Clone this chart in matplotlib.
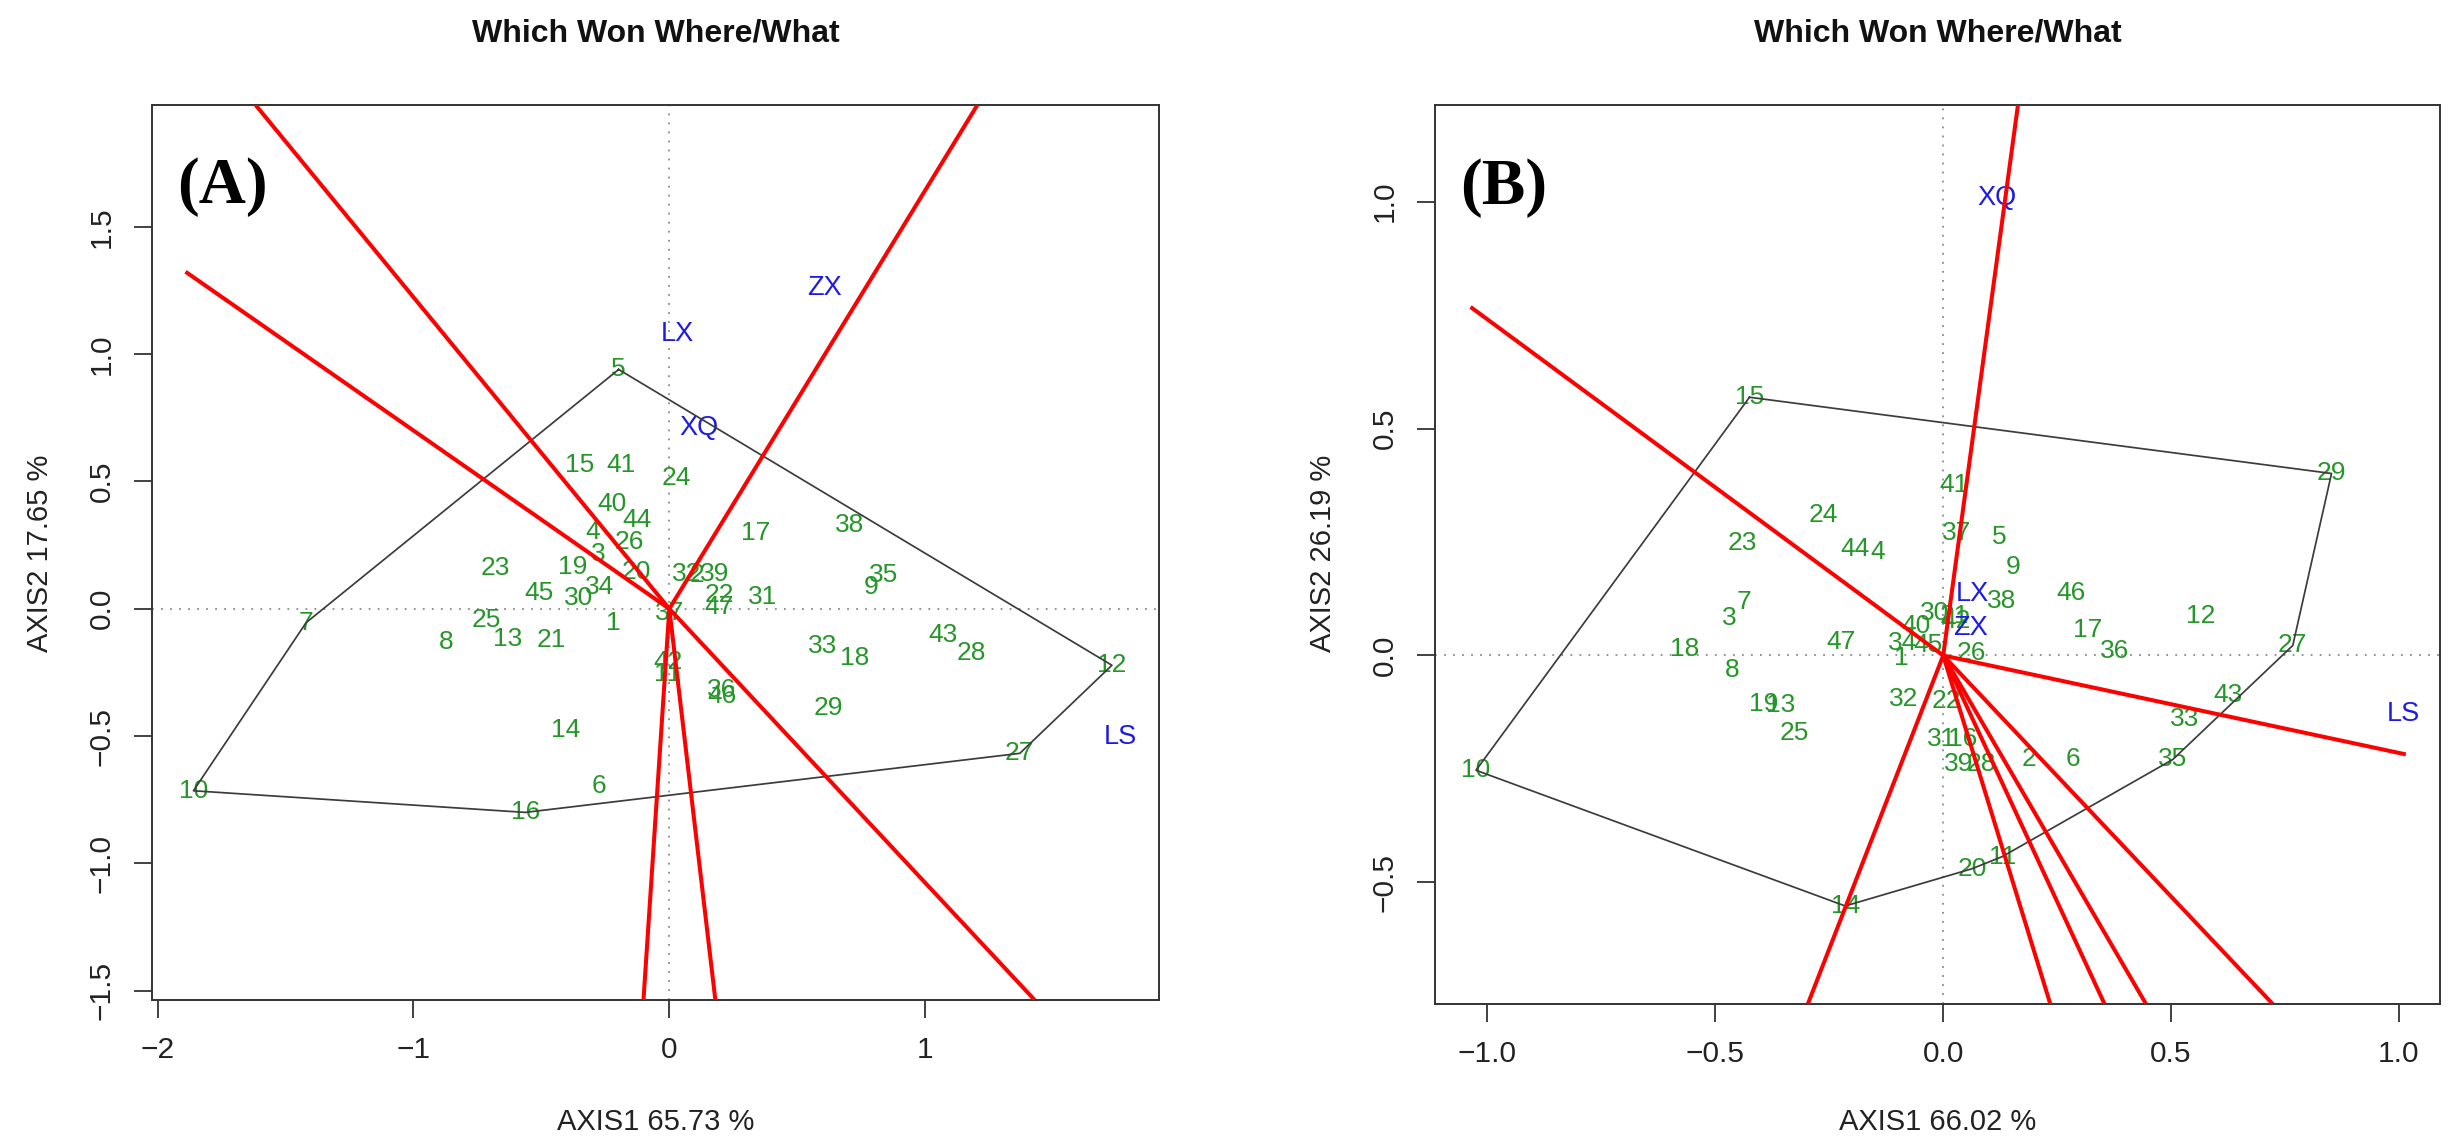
import matplotlib
matplotlib.use("Agg")
import matplotlib.pyplot as plt

plt.rcParams['font.family'] = ['Liberation Sans', 'DejaVu Sans']

# ---------------- data ----------------
genotypes = [str(i) for i in range(1, 48)]
env_names = ["LX", "XQ", "ZX", "LS"]

# Panel A genotype scores (AXIS1, AXIS2)
a_x = [-0.217, 0.110, -0.276, -0.300, -0.198, -0.275, -1.420, -0.871, 0.790, -1.860,
       -0.005, 1.730, -0.632, -0.404, -0.350, -0.563, 0.338, 0.726, -0.376, -0.130,
       -0.463, 0.196, -0.681, 0.027, -0.717, -0.158, 1.370, 1.180, 0.621, -0.354,
       0.365, 0.067, 0.600, -0.271, 0.836, 0.205, 0.000, 0.704, 0.177, -0.223,
       -0.187, -0.004, 1.068, -0.127, -0.509, 0.205, 0.196]
a_y = [-0.057, 0.133, 0.215, 0.303, 0.940, -0.695, -0.055, -0.130, 0.085, -0.715,
       -0.255, -0.222, -0.117, -0.475, 0.566, -0.800, 0.296, -0.194, 0.163, 0.144,
       -0.123, 0.053, 0.159, 0.512, -0.045, 0.264, -0.568, -0.174, -0.388, 0.041,
       0.047, 0.136, -0.148, 0.087, 0.134, -0.318, -0.015, 0.330, 0.138, 0.410,
       0.563, -0.210, -0.102, 0.349, 0.060, -0.342, 0.007]
a_env_x = [0.030, 0.117, 0.606, 1.764]
a_env_y = [1.080, 0.712, 1.261, -0.504]
a_hull = [5, 12, 27, 16, 10, 7]
a_ray_x = [-1.617, -1.891, 1.204, 1.428, -0.101, 0.180]
a_ray_y = [1.979, 1.324, 1.979, -1.537, -1.537, -1.537]

# Panel B genotype scores
b_x = [-0.091, 0.189, -0.470, -0.144, 0.122, 0.285, -0.438, -0.464, 0.154, -1.025,
       0.130, 0.565, -0.357, -0.215, -0.425, 0.042, 0.316, -0.567, -0.393, 0.063,
       0.024, 0.006, -0.441, -0.264, -0.326, 0.061, 0.767, 0.083, 0.852, -0.018,
       -0.004, -0.087, 0.530, -0.089, 0.504, 0.375, 0.030, 0.129, 0.033, -0.060,
       0.024, 0.028, 0.624, -0.194, -0.034, 0.280, -0.223]
b_y = [-0.006, -0.228, 0.083, 0.227, 0.260, -0.228, 0.117, -0.031, 0.196, -0.253,
       -0.443, 0.088, -0.110, -0.552, 0.569, -0.183, 0.057, 0.015, -0.106, -0.470,
       0.088, -0.100, 0.247, 0.310, -0.170, 0.006, 0.022, -0.240, 0.401, 0.093,
       -0.183, -0.096, -0.141, 0.027, -0.229, 0.010, 0.270, 0.120, -0.240, 0.066,
       0.376, 0.075, -0.087, 0.234, 0.023, 0.137, 0.029]
b_env_x = [0.065, 0.117, 0.061, 1.010]
b_env_y = [0.135, 1.009, 0.061, -0.130]
b_hull = [15, 29, 27, 35, 11, 20, 14, 10]
b_ray_x = [-1.037, 0.164, 1.015, -0.297, 0.235, 0.354, 0.445, 0.723]
b_ray_y = [0.768, 1.213, -0.218, -0.768, -0.768, -0.768, -0.768, -0.768]

a_xticks = [-2, -1, 0, 1]
a_xticklabels = ["\u22122", "\u22121", "0", "1"]
a_yticks = [-1.5, -1.0, -0.5, 0.0, 0.5, 1.0, 1.5]
a_yticklabels = ["\u22121.5", "\u22121.0", "\u22120.5", "0.0", "0.5", "1.0", "1.5"]
b_xticks = [-1.0, -0.5, 0.0, 0.5, 1.0]
b_xticklabels = ["\u22121.0", "\u22120.5", "0.0", "0.5", "1.0"]
b_yticks = [-0.5, 0.0, 0.5, 1.0]
b_yticklabels = ["\u22120.5", "0.0", "0.5", "1.0"]

title_text = "Which Won Where/What"
a_xlabel, a_ylabel = "AXIS1 65.73 %", "AXIS2 17.65 %"
b_xlabel, b_ylabel = "AXIS1 66.02 %", "AXIS2 26.19 %"

# ---------------- figure ----------------
W, H = 2451, 1146
fig = plt.figure(figsize=(W / 100, H / 100), dpi=100)

GREEN = '#27962a'
BLUE = '#1c1ce6'
RED = '#ff0000'
GRID = '#8a8a8a'
DARK = '#333333'


def px_axes(left, right, top, bottom):
    return fig.add_axes([left / W, 1 - bottom / H, (right - left) / W, (bottom - top) / H])


def draw(ax, xs, ys, ex, ey, hull, rx, ry, xlim, ylim,
         xt, xtl, yt, ytl, tag):
    ax.set_xlim(*xlim)
    ax.set_ylim(*ylim)
    ax.axhline(0, color=GRID, lw=1.3, ls=(0, (1, 4)), zorder=1)
    ax.axvline(0, color=GRID, lw=1.3, ls=(0, (1, 4)), zorder=1)
    for g, x, y in zip(genotypes, xs, ys):
        ax.text(x, y, g, color=GREEN, fontsize=19, ha='center', va='center', zorder=2)
    for e, x, y in zip(env_names, ex, ey):
        ax.text(x, y, e, color=BLUE, fontsize=19.5, ha='center', va='center', zorder=2)
    idx = [h - 1 for h in hull] + [hull[0] - 1]
    ax.plot([xs[i] for i in idx], [ys[i] for i in idx], color='#3c3c3c', lw=1.25, zorder=3)
    for x, y in zip(rx, ry):
        ax.plot([0, x], [0, y], color=RED, lw=2.9, solid_capstyle='butt', zorder=4)
    ax.set_xticks(xt)
    ax.set_xticklabels(xtl, fontsize=21.5)
    ax.set_yticks(yt)
    ax.set_yticklabels(ytl, fontsize=21.5, rotation=90, va='center')
    ax.tick_params(length=13, width=1.3, color=DARK, pad=13, labelcolor='#222222')
    for s in ax.spines.values():
        s.set_linewidth(1.4)
        s.set_color(DARK)
    ax.text(0.025, 0.908, tag, transform=ax.transAxes, fontsize=47, fontweight='bold',
            family=['Liberation Serif', 'DejaVu Serif'], ha='left', va='center', zorder=6)


axA = px_axes(152, 1159, 105, 1000)
draw(axA, a_x, a_y, a_env_x, a_env_y, a_hull, a_ray_x, a_ray_y,
     (-2.022, 1.914), (-1.537, 1.979),
     a_xticks, a_xticklabels, a_yticks, a_yticklabels, "(A)")

axB = px_axes(1435, 2440, 105, 1004)
draw(axB, b_x, b_y, b_env_x, b_env_y, b_hull, b_ray_x, b_ray_y,
     (-1.115, 1.090), (-0.768, 1.213),
     b_xticks, b_xticklabels, b_yticks, b_yticklabels, "(B)")

for ax, xl, yl, left, right in [(axA, a_xlabel, a_ylabel, 152, 1159),
                                (axB, b_xlabel, b_ylabel, 1435, 2440)]:
    cx = (left + right) / 2 / W
    fig.text(cx, 1 - 34 / H, title_text, fontsize=23, fontweight='bold',
             ha='center', va='center', color='#111111')
    fig.text(cx, 1 - 1122 / H, xl, fontsize=21, ha='center', va='center', color='#222222')
    fig.text((left - 112) / W, 1 - 553 / H, yl, fontsize=21, rotation=90,
             ha='center', va='center', color='#222222')

fig.savefig("out.png", dpi=100, facecolor='white')
